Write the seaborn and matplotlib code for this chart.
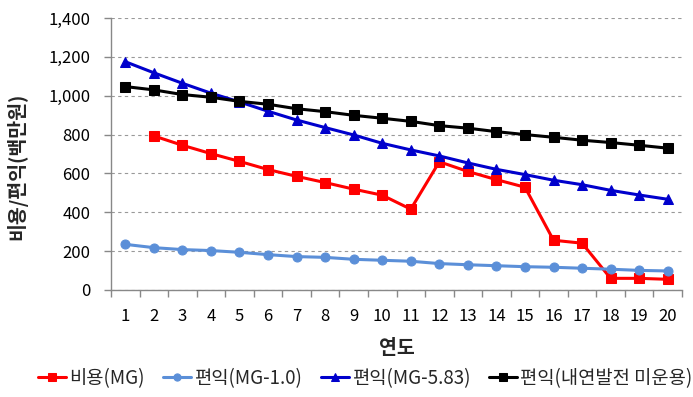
import matplotlib
matplotlib.use("Agg")
import matplotlib.pyplot as plt
import seaborn as sns
import pandas as pd
import numpy as np
from matplotlib.ticker import FuncFormatter, MultipleLocator

years = list(range(1, 21))
cost_mg = [np.nan, 793, 745, 702, 662, 620, 585, 553, 519, 488, 416, 660, 610, 568, 529, 256, 241, 60, 60, 55]
benefit_mg10 = [235, 218, 208, 203, 194, 182, 172, 168, 158, 153, 148, 136, 130, 125, 120, 117, 112, 107, 101, 98]
benefit_mg583 = [1175, 1118, 1064, 1013, 968, 920, 875, 836, 798, 755, 721, 690, 654, 621, 594, 565, 542, 513, 489, 467]
benefit_ice = [1047, 1030, 1006, 992, 971, 956, 933, 918, 899, 884, 868, 846, 833, 815, 800, 786, 771, 759, 745, 730]

labels = ["비용(MG)", "편익(MG-1.0)", "편익(MG-5.83)", "편익(내연발전 미운용)"]
colors = ["#ff0000", "#5b8fd8", "#0000cc", "#000000"]
markers = ["s", "o", "^", "s"]
series = [cost_mg, benefit_mg10, benefit_mg583, benefit_ice]

sns.set_theme(style="white")
plt.rcParams['font.family'] = ['Noto Sans CJK KR', 'DejaVu Sans']

fig = plt.figure(figsize=(6.93, 3.97), dpi=100)
ax = fig.add_axes([111/693, 1 - 290/397, (682-111)/693, (290-18)/397])

for lab, col, mk, vals in zip(labels, colors, markers, series):
    df = pd.DataFrame({"year": years, "value": vals}).dropna()
    ms = 7 if mk == "^" else 6.5
    sns.lineplot(data=df, x="year", y="value", ax=ax, color=col, marker=mk,
                 markersize=ms, markeredgecolor=col, linewidth=2.2, label=lab)

ax.set_xlim(0.5, 20.5)
ax.set_ylim(0, 1400)
ax.yaxis.set_major_locator(MultipleLocator(200))
ax.yaxis.set_major_formatter(FuncFormatter(lambda v, p: f"{int(v):,}"))
ax.set_xticks(years)
ax.set_xticklabels([str(y) for y in years])
ax.set_xticks(np.arange(0.5, 21, 1), minor=True)
ax.tick_params(axis='x', which='major', length=0, labelsize=12, pad=13, colors='black')
ax.tick_params(axis='x', which='minor', length=5, width=1, color='#888888', direction='out', bottom=True)
ax.tick_params(axis='y', which='major', length=5, width=1, color='#888888', direction='out', left=True,
               labelsize=12, pad=10)
ax.tick_params(axis='y', labelcolor='black')

ax.grid(axis='y', linestyle=(0, (3, 3)), color='#999999', linewidth=0.8)
ax.set_axisbelow(True)
for s in ['top', 'right']:
    ax.spines[s].set_visible(False)
for s in ['left', 'bottom']:
    ax.spines[s].set_color('#888888')
    ax.spines[s].set_linewidth(1)

ax.set_xlabel("연도", fontsize=14, fontweight='bold', labelpad=10)
ax.set_ylabel("비용/편익(백만원)", fontsize=14, fontweight='bold')
ax.yaxis.set_label_coords((27-111)/571, (290-166)/272)

ax.legend(loc='center', bbox_to_anchor=(0.445, -0.324), ncol=4, frameon=False,
          fontsize=13.5, handlelength=1.5, handletextpad=0.15, columnspacing=1.0, markerscale=0.8,
          borderaxespad=0)

fig.savefig("out.png", dpi=100)
